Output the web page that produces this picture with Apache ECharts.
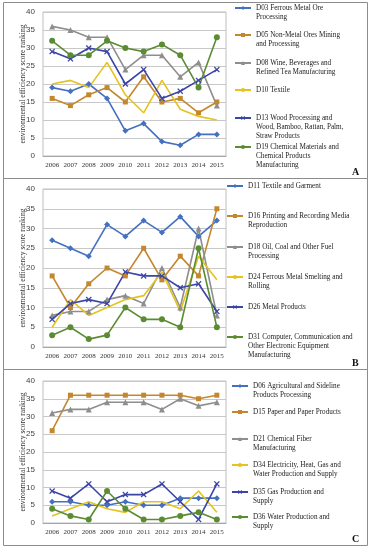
<!DOCTYPE html>
<html><head><meta charset="utf-8">
<script src="https://cdn.jsdelivr.net/npm/echarts@6/dist/echarts.min.js"></script>
<style>html,body{margin:0;padding:0;background:#fff}#c{width:371px;height:550px}</style>
</head><body><div id="c"></div>
<script>
const years = ['2006','2007','2008','2009','2010','2011','2012','2013','2014','2015'];
const yTicks = [0,5,10,15,20,25,30,35,40];
const yName = 'environmental efficiency score ranking';

// Panel A
const namesA = ['D03 Ferrous Metal Ore\nProcessing','D05 Non-Metal Ores Mining\nand Processing','D08 Wine, Beverages and\nRefined Tea Manufacturing','D10 Textile','D13 Wood Processing and\nWood, Bamboo, Rattan, Palm,\nStraw Products','D19 Chemical Materials and\nChemical Products\nManufacturing'];
const D03 = [19,18,20,16,7,9,4,3,6,6];
const D05 = [16,14,17,19,15,22,15,16,12,15];
const D08 = [36,35,33,33,24,28,28,22,26,14];
const D10 = [20,21,19,26,17,12,21,13,11,10];
const D13 = [29,27,30,29,20,24,16,18,21,24];
const D19 = [32,28,28,32,30,29,31,28,19,33];

// Panel B
const namesB = ['D11 Textile and Garment','D16 Printing and Recording Media\nReproduction','D18 Oil, Coal and Other Fuel\nProcessing','D24 Ferrous Metal Smelting and\nRolling','D26 Metal Products','D31 Computer, Communication and\nOther Electronic Equipment\nManufacturing'];
const D11 = [27,25,23,31,28,32,29,33,28,32];
const D16 = [18,10,16,20,18,25,17,23,18,35];
const D18 = [8,9,9,12,13,11,20,10,30,8];
const D24 = [5,12,8,10,12,13,19,9,23,17];
const D26 = [7,11,12,11,19,18,18,15,16,9];
const D31 = [3,5,2,3,10,7,7,5,25,5];

// Panel C
const namesC = ['D06 Agricultural and Sideline\nProducts Processing','D15 Paper and Paper Products','D21 Chemical Fiber\nManufacturing','D34 Electricity, Heat, Gas and\nWater Production and Supply','D35 Gas Production and\nSupply','D36 Water Production and\nSupply'];
const D06 = [6,6,5,5,6,5,5,7,7,7];
const D15 = [26,36,36,36,36,36,36,36,35,36];
const D21 = [31,32,32,34,34,34,32,35,33,34];
const D34 = [2,4,6,4,3,6,6,4,9,3];
const D35 = [9,7,11,6,8,8,11,6,1,11];
const D36 = [4,2,1,9,4,1,1,2,3,1];

const panelLabels = ['A','B','C'];

const XPATH = 'path://M0,1.5L1.5,0L5,3.5L8.5,0L10,1.5L6.5,5L10,8.5L8.5,10L5,6.5L1.5,10L0,8.5L3.5,5Z';
const styles = [
  {color:'#4470C0', symbol:'diamond', size:6},
  {color:'#C4872E', symbol:'rect', size:5},
  {color:'#8E8E8E', symbol:'triangle', size:6},
  {color:'#E6C21C', symbol:'none', size:0},
  {color:'#3A45A6', symbol:XPATH, size:6},
  {color:'#5B8C32', symbol:'circle', size:6}
];

const panels = [
  {names:namesA, data:[D03,D05,D08,D10,D13,D19], top:12, h:144, legY:[8,35,63,90,118,147], legX:234},
  {names:namesB, data:[D11,D16,D18,D24,D26,D31], top:189, h:158, legY:[186,216,247,277,307,337], legX:226},
  {names:namesC, data:[D06,D15,D21,D34,D35,D36], top:381, h:142, legY:[386,412,439,465,492,517], legX:231}
];

const LH = 9;
const serif = '"Liberation Serif", "DejaVu Serif", serif';
const grid = [], xAxis = [], yAxis = [], series = [], legend = [];
panels.forEach((p, pi) => {
  grid.push({left:43, width:183, top:p.top, height:p.h, show:true, borderColor:'#BFBFBF', borderWidth:1, backgroundColor:'transparent'});
  xAxis.push({type:'category', gridIndex:pi, data:years, boundaryGap:true,
    axisLine:{lineStyle:{color:'#A6A6A6'}}, axisTick:{show:false},
    axisLabel:{fontFamily:serif, fontSize:7, color:'#333', margin:6}});
  yAxis.push({type:'value', gridIndex:pi, min:yTicks[0], max:yTicks[yTicks.length-1], interval:5,
    name:yName, nameLocation:'middle', nameGap:16, nameMoveOverlap:false,
    nameTextStyle:{fontFamily:serif, fontSize:7.6, color:'#333'},
    axisLine:{show:false}, axisTick:{show:false},
    splitLine:{lineStyle:{color:'#C8C8C8'}},
    axisLabel:{fontFamily:'"Liberation Sans", Arial, sans-serif', fontSize:8, color:'#444', margin:8}});
  p.names.forEach((nm, si) => {
    const st = styles[si];
    series.push({name:nm, type:'line', xAxisIndex:pi, yAxisIndex:pi, data:p.data[si],
      symbol:st.symbol, symbolSize:st.size, showSymbol:st.symbol!=='none',
      lineStyle:{color:st.color, width:1.6}, itemStyle:{color:st.color}, color:st.color});
    const n = nm.split('\n').length;
    const block = (2*n-1)*LH;
    const pad = '\n'.repeat(n-1);
    legend.push({data:[nm], left:p.legX, top:p.legY[si] - block/2, orient:'vertical', padding:0,
      itemWidth:16, itemHeight:5, selectedMode:false,
      formatter: (name) => pad + name,
      textStyle:{fontFamily:serif, fontSize:7.2, color:'#222', lineHeight:LH}});
  });
});

const graphic = [
  {type:'rect', shape:{x:3.5, y:2.5, width:364, height:176}, style:{fill:'none', stroke:'#8C8C8C', lineWidth:1}},
  {type:'rect', shape:{x:3.5, y:178.5, width:364, height:191}, style:{fill:'none', stroke:'#8C8C8C', lineWidth:1}},
  {type:'rect', shape:{x:3.5, y:369.5, width:364, height:176}, style:{fill:'none', stroke:'#8C8C8C', lineWidth:1}},
  {type:'text', left:352, top:167, style:{text:panelLabels[0], font:'bold 10px ' + serif, fill:'#111'}},
  {type:'text', left:352, top:358, style:{text:panelLabels[1], font:'bold 10px ' + serif, fill:'#111'}},
  {type:'text', left:352, top:534, style:{text:panelLabels[2], font:'bold 10px ' + serif, fill:'#111'}}
];

const chart = echarts.init(document.getElementById('c'), null, {renderer:'canvas'});
chart.setOption({animation:false, backgroundColor:'#fff', grid, xAxis, yAxis, series, legend, graphic});
</script></body></html>
